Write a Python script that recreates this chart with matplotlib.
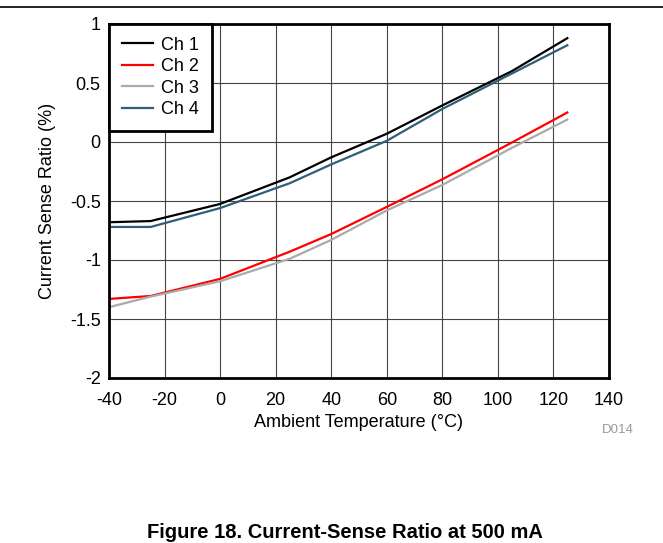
import matplotlib
matplotlib.use('Agg')
import matplotlib.pyplot as plt
from matplotlib.lines import Line2D

plt.rcParams['font.family'] = ['Liberation Sans', 'DejaVu Sans']

# 数据
temps = [-40, -25, 0, 25, 40, 60, 80, 105, 125]
ch1 = [-0.68, -0.67, -0.525, -0.30, -0.13, 0.07, 0.31, 0.60, 0.88]
ch2 = [-1.33, -1.305, -1.16, -0.93, -0.78, -0.55, -0.316, -0.005, 0.25]
ch3 = [-1.40, -1.31, -1.18, -0.99, -0.83, -0.58, -0.364, -0.05, 0.19]
ch4 = [-0.72, -0.72, -0.56, -0.35, -0.19, 0.01, 0.28, 0.58, 0.82]

x_ticks = [-40, -20, 0, 20, 40, 60, 80, 100, 120, 140]
y_ticks = [-2, -1.5, -1, -0.5, 0, 0.5, 1]
y_labels = ['-2', '-1.5', '-1', '-0.5', '0', '0.5', '1']

fig = plt.figure(figsize=(6.63, 5.43), dpi=100)
ax = fig.add_axes([109 / 663, 1 - 378 / 543, 500 / 663, 354 / 543])

ax.plot(temps, ch1, color='black', lw=1.6, label='Ch 1')
ax.plot(temps, ch2, color='#ff0000', lw=1.6, label='Ch 2')
ax.plot(temps, ch3, color='#aaaaaa', lw=1.6, label='Ch 3')
ax.plot(temps, ch4, color='#2f5f78', lw=1.6, label='Ch 4')

ax.set_xlim(-40, 140)
ax.set_ylim(-2, 1)
ax.set_xticks(x_ticks)
ax.set_xticklabels([str(t) for t in x_ticks])
ax.set_yticks(y_ticks)
ax.set_yticklabels(y_labels)
ax.tick_params(length=0, labelsize=13)
ax.tick_params(axis='x', pad=10)
ax.tick_params(axis='y', pad=6)
ax.grid(True, color='#444444', lw=0.8)
ax.set_axisbelow(True)
for s in ax.spines.values():
    s.set_linewidth(2)
    s.set_color('black')

ax.set_xlabel('Ambient Temperature (°C)', fontsize=13, labelpad=3.5)
ax.set_ylabel('Current Sense Ratio (%)', fontsize=13, labelpad=10)

leg = ax.legend(loc='upper left', fontsize=13, frameon=True, fancybox=False,
                borderaxespad=0, handlelength=1.75, handletextpad=0.45,
                labelspacing=0.25, borderpad=0.7)
leg.get_frame().set_edgecolor('black')
leg.get_frame().set_linewidth(2)
leg.get_frame().set_alpha(1)

fig.add_artist(Line2D([0, 1], [1 - 7 / 543, 1 - 7 / 543], color='black', lw=1.2))
fig.text(618 / 663, 1 - 430 / 543, 'D014', fontsize=9.5, color='#999999',
         ha='center', va='center')
fig.text(345 / 663, 1 - 533 / 543, 'Figure 18. Current-Sense Ratio at 500 mA',
         fontsize=14.5, fontweight='bold', ha='center', va='center')

fig.savefig('out.png', dpi=100)
